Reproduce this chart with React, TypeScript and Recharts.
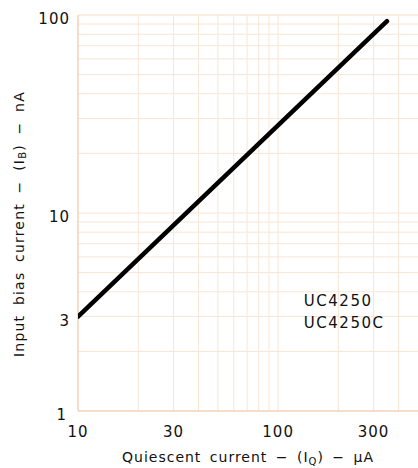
import React from "react";
import {
  LineChart,
  Line,
  XAxis,
  YAxis,
  ReferenceLine,
  ReferenceDot,
  Label,
} from "recharts";

// quiescent current (uA) vs input bias current (nA)
const quiescentCurrent = [10, 350];
const biasCurrent = [3, 93];

const xTicks = [10, 30, 100, 300];
const yTicks = [1, 3, 10, 100];
const xGrid = [20, 30, 40, 50, 60, 70, 80, 90, 100, 200, 300, 400];
const yGrid = [2, 3, 4, 5, 6, 7, 8, 9, 10, 20, 30, 40, 50, 60, 70, 80, 90];
const partNames = ["UC4250", "UC4250C"];
const partLabelAt = { x: 136, y: 3.4 };

const data = quiescentCurrent.map((q, i) => ({ q, ib: biasCurrent[i] }));

const FONT = "'DejaVu Sans', sans-serif";
const INK = "#111";
const GRID = "#f8e6d6";
const BORDER = "#f2d2b8";

const XTick = ({ x, y, payload }: any) => (
  <text
    x={x}
    y={y}
    dy={24}
    textAnchor="middle"
    fontFamily={FONT}
    fontSize={15}
    letterSpacing={1}
    fill={INK}
  >
    {payload.value}
  </text>
);

const YTick = ({ x, y, payload }: any) => (
  <text
    x={payload.value === 1 ? x - 3 : x}
    y={y}
    dy={9}
    textAnchor="end"
    fontFamily={FONT}
    fontSize={15}
    letterSpacing={1}
    fill={INK}
  >
    {payload.value}
  </text>
);

const XTitle = ({ viewBox }: any) => (
  <text
    x={viewBox.x + viewBox.width / 2}
    y={462}
    textAnchor="middle"
    fontFamily={FONT}
    fontSize={14}
    letterSpacing={1}
    wordSpacing={3}
    fill={INK}
  >
    <tspan>Quiescent current − (I</tspan>
    <tspan dy={3} fontSize={10}>Q</tspan>
    <tspan dy={-3}>) − μA</tspan>
  </text>
);

const YTitle = () => {
  const cx = 19;
  const cy = 224;
  return (
    <text
      x={cx}
      y={cy}
      transform={`rotate(-90 ${cx} ${cy})`}
      textAnchor="middle"
      dominantBaseline="central"
      fontFamily={FONT}
      fontSize={14}
      letterSpacing={1.2}
      wordSpacing={4}
      fill={INK}
    >
      <tspan>Input bias current − (I</tspan>
      <tspan dy={3} fontSize={10}>B</tspan>
      <tspan dy={-3}>) − nA</tspan>
    </text>
  );
};

const PartLabel = ({ viewBox }: any) => (
  <text fontFamily={FONT} fontSize={15} letterSpacing={1.5} fill={INK}>
    {partNames.map((name, i) => (
      <tspan key={name} x={viewBox.x} y={viewBox.y + 1 + i * 22}>
        {name}
      </tspan>
    ))}
  </text>
);

export default function App() {
  return (
    <div
      style={{
        position: "absolute",
        left: 0,
        top: 0,
        width: 418,
        height: 468,
        overflow: "hidden",
        background: "#fff",
      }}
    >
      <LineChart
        width={418}
        height={468}
        data={data}
        margin={{ top: 15, right: 0, bottom: 0, left: 0 }}
      >
        <XAxis
          dataKey="q"
          type="number"
          scale="log"
          domain={[10, 500]}
          allowDataOverflow
          ticks={xTicks}
          tick={<XTick />}
          tickLine={false}
          axisLine={false}
          tickSize={0}
          height={57}
        >
          <Label content={<XTitle />} />
        </XAxis>
        <YAxis
          type="number"
          scale="log"
          domain={[1, 100]}
          allowDataOverflow
          ticks={yTicks}
          tick={<YTick />}
          tickLine={false}
          axisLine={false}
          tickSize={0}
          tickMargin={8}
          width={78}
        >
          <Label content={<YTitle />} />
        </YAxis>
        {xGrid.map((v) => (
          <ReferenceLine key={`x${v}`} x={v} stroke={GRID} strokeWidth={1} />
        ))}
        {yGrid.map((v) => (
          <ReferenceLine key={`y${v}`} y={v} stroke={GRID} strokeWidth={1} />
        ))}
        <ReferenceLine x={10} stroke={BORDER} strokeWidth={1.5} />
        <ReferenceLine y={1} stroke={BORDER} strokeWidth={1.5} />
        <ReferenceLine y={100} stroke={GRID} strokeWidth={1.5} />
        <Line
          dataKey="ib"
          stroke="#000"
          strokeWidth={4.5}
          strokeLinecap="round"
          dot={false}
          isAnimationActive={false}
        />
        <ReferenceDot
          x={partLabelAt.x}
          y={partLabelAt.y}
          r={1}
          fill="none"
          stroke="none"
          label={<PartLabel />}
        />
      </LineChart>
    </div>
  );
}
